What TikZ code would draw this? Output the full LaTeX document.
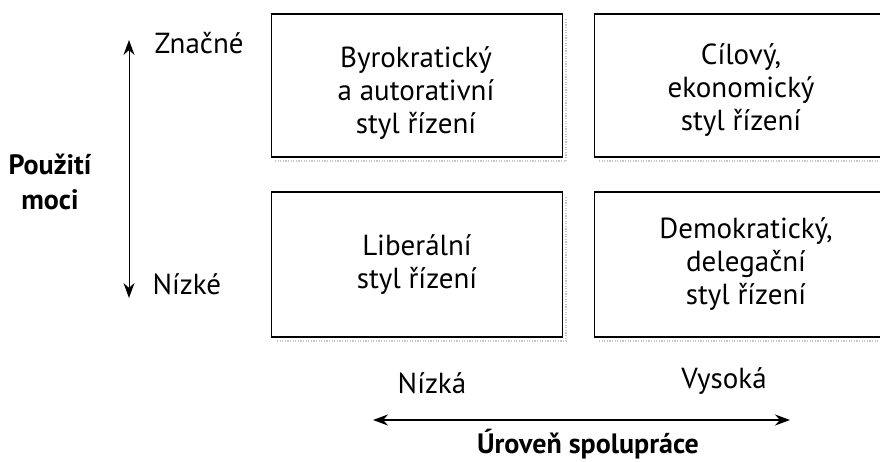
\documentclass[tikz,border=0pt]{standalone}
\usepackage{fontspec}
\setmainfont{PT Sans}
\usetikzlibrary{arrows.meta}
\tikzset{
  stylebox/.style={draw, line width=1.8pt, minimum width=291pt, inner sep=0pt},
  boxtext/.style={align=center, font=\fontsize{29}{33}\selectfont},
  sidelabel/.style={font=\fontsize{29}{33}\selectfont},
  axislabel/.style={align=center, font=\fontsize{28}{35}\selectfont\bfseries},
  shadowline/.style={gray!45, line width=1.6pt, dash pattern=on 1.2pt off 1.4pt},
  axisarrow/.style={{Stealth[length=15pt,width=11pt]}-{Stealth[length=15pt,width=11pt]}}
}
\begin{document}
\begin{tikzpicture}[x=1pt,y=-1pt]
\useasboundingbox (0,0) rectangle (880,462);
% shadows
\draw[shadowline] (275,161) -- (566,161) -- (566,18);
\draw[shadowline] (599,161) -- (885,161);
\draw[shadowline] (277,341) -- (566,341) -- (566,196);
\draw[shadowline] (599,341) -- (885,341);
% boxes
\node[stylebox, minimum height=143pt] (b1) at (417,85.5) {};
\node[stylebox, minimum height=143pt] (b2) at (740,85.5) {};
\node[stylebox, minimum height=145pt] (b3) at (417,264.5) {};
\node[stylebox, minimum height=145pt] (b4) at (740,264.5) {};
% box texts
\node[boxtext] (t1) at (416,93) {Byrokratický\\a autorativní\\styl řízení};
\node[boxtext] (t2) at (741,90) {Cílový,\\ekonomický\\styl řízení};
\node[boxtext] (t3) at (417,265) {Liberální\\styl řízení};
\node[boxtext] (t4) at (746,264) {Demokratický,\\delegační\\styl řízení};
% vertical axis
\coordinate (vtop) at (129,40);
\coordinate (vbot) at (129,298);
\draw[axisarrow, line width=1pt] (vbot) -- (vtop);
\node[sidelabel, anchor=west] (lz) at (151,43) {Značné};
\node[sidelabel, anchor=west] (ln) at (149,284) {Nízké};
\node[axislabel] (lp) at (50,182) {Použití\\moci};
% horizontal axis
\coordinate (hl) at (373,420);
\coordinate (hr) at (790,420);
\draw[axisarrow, line width=1.6pt] (hl) -- (hr);
\node[sidelabel] (lnz) at (432,383) {Nízká};
\node[sidelabel] (lvy) at (724,381) {Vysoká};
\node[axislabel, inner sep=1pt] (lur) at (588,444) {Úroveň spolupráce};
\end{tikzpicture}
\end{document}
